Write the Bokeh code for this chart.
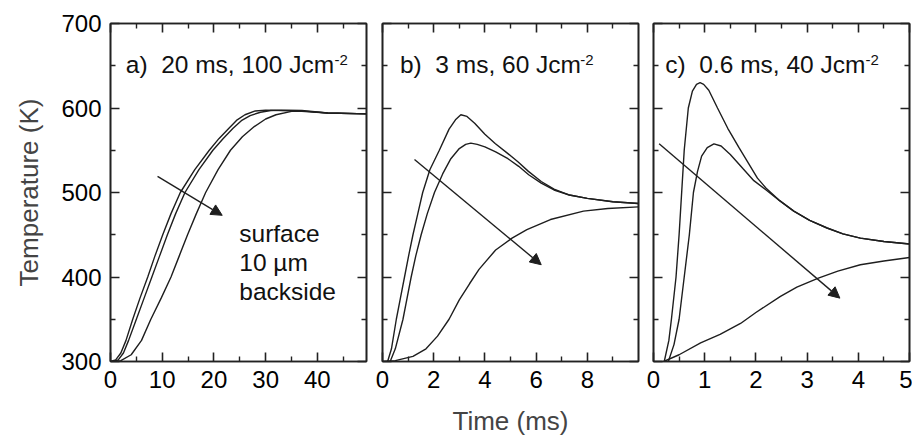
from bokeh.plotting import figure
from bokeh.layouts import row
from bokeh.models import Range1d, FixedTicker, LinearAxis, Label, Arrow, NormalHead
from bokeh.embed import file_html
from bokeh.resources import INLINE

# ---------------- data ----------------
# panel a) 20 ms, 100 Jcm-2
a_surface_t = [0, 1, 2, 3, 4.3, 5.7, 7.2, 8.6, 10.1, 11.7, 13.5, 16.3, 19.1, 21, 22.9, 24.5, 26, 28, 30, 33, 37, 42, 49.6]
a_surface_T = [300, 302, 310, 325, 350, 375, 400, 425, 450, 475, 500, 527, 550, 564, 576, 586, 592, 596.5, 597.5, 597, 596, 594, 593]
a_10um_t = [0.5, 1.5, 2.5, 3.5, 5.0, 6.5, 8.0, 9.5, 11.0, 12.6, 14.4, 17.1, 19.8, 21.8, 23.7, 25.3, 27, 29, 31, 34, 37, 42, 49.6]
a_10um_T = [300, 302, 310, 325, 350, 375, 400, 425, 450, 475, 500, 527, 550, 564, 576, 585, 591, 595, 597, 597.5, 597, 594, 593]
a_back_t = [0, 2, 4, 6, 7.8, 9.8, 11.7, 13.3, 14.9, 16.6, 18.4, 20.8, 23.2, 25.5, 27.8, 30, 32, 35, 38, 42, 49.6]
a_back_T = [300, 301, 308, 325, 350, 375, 400, 425, 450, 475, 500, 527, 550, 566, 578, 587, 592, 596, 596, 594, 593]

# panel b) 3 ms, 60 Jcm-2
b_surface_t = [0.2, 0.35, 0.54, 0.7, 0.86, 1.02, 1.19, 1.38, 1.57, 1.85, 2.22, 2.6, 2.85, 3.06, 3.3, 3.6, 4.0, 4.4, 4.9, 5.3, 5.7, 6.2, 6.7, 7.3, 8.0, 9.0, 10.0]
b_surface_T = [300, 315, 350, 375, 400, 425, 450, 475, 500, 527, 550, 575, 586, 592, 590, 582, 569, 558, 546, 536, 525, 513, 504, 497, 493, 489, 487]
b_10um_t = [0.3, 0.5, 0.8, 0.96, 1.12, 1.3, 1.51, 1.75, 2.03, 2.35, 2.67, 3.0, 3.25, 3.45, 3.7, 4.0, 4.42, 4.9, 5.32, 5.71, 6.2, 6.7, 7.3, 8.0, 9.0, 10.0]
b_10um_T = [300, 315, 350, 375, 400, 425, 450, 475, 500, 522, 540, 552, 557, 558.5, 557, 554, 548, 540, 531, 521, 511, 503, 497, 493, 489, 487]
b_back_t = [0, 0.5, 1.19, 1.7, 2.15, 2.6, 3.0, 3.4, 3.77, 4.42, 5.06, 5.64, 6.56, 7.85, 8.8, 10]
b_back_T = [300, 301, 306, 315, 330, 350, 373, 392, 409, 432, 446, 456, 468, 478, 481, 483]

# panel c) 0.6 ms, 40 Jcm-2
c_surface_t = [0.21, 0.3, 0.35, 0.44, 0.50, 0.55, 0.60, 0.68, 0.76, 0.84, 0.91, 0.98, 1.08, 1.25, 1.45, 1.67, 1.85, 2.03, 2.2, 2.45, 2.74, 3.05, 3.39, 3.7, 4.04, 4.5, 5.0]
c_surface_T = [300, 325, 350, 400, 450, 500, 550, 600, 620, 628, 630, 628, 621, 600, 576, 553, 535, 517, 505, 491, 478, 467, 458, 451, 446, 442, 439]
c_10um_t = [0.29, 0.4, 0.5, 0.6, 0.7, 0.78, 0.86, 0.94, 1.05, 1.18, 1.32, 1.5, 1.75, 1.96, 2.2, 2.45, 2.74, 3.05, 3.39, 3.7, 4.04, 4.5, 5.0]
c_10um_T = [300, 320, 350, 400, 450, 500, 525, 543, 553, 557.5, 555, 545, 528, 514, 503, 491, 478, 467, 458, 451, 446, 442, 439]
c_back_t = [0.2, 0.5, 0.92, 1.3, 1.7, 2.0, 2.48, 2.8, 3.22, 3.6, 4.04, 4.5, 5.0]
c_back_T = [300, 308, 322, 332, 345, 358, 377, 388, 398.7, 407, 414.5, 419, 423]

y_ticks = [300, 400, 500, 600, 700]
y_minor = [350, 450, 550, 650]
a_xticks = [0, 10, 20, 30, 40]
a_xminor = [5, 15, 25, 35, 45]
b_xticks = [0, 2, 4, 6, 8]
b_xminor = [1, 3, 5, 7, 9]
c_xticks = [0, 1, 2, 3, 4, 5]
c_xminor = [0.5, 1.5, 2.5, 3.5, 4.5]

panel_titles = ["a)\u00a0 20 ms, 100 Jcm", "b)\u00a0 3 ms, 60 Jcm", "c)\u00a0 0.6 ms, 40 Jcm"]
depth_labels = ["surface", "10 \u00b5m", "backside"]

FONT = "Liberation Sans"
LINE = "#1e1e1e"


def style_axis(ax, ticks, minor, labels=True):
    ax.ticker = FixedTicker(ticks=ticks, minor_ticks=minor)
    ax.major_tick_in = 9
    ax.major_tick_out = 0
    ax.minor_tick_in = 5
    ax.minor_tick_out = 0
    ax.axis_line_width = 1.6
    ax.axis_line_color = "#222222"
    ax.major_tick_line_width = 1.6
    ax.minor_tick_line_width = 1.4
    ax.major_tick_line_color = "#222222"
    ax.minor_tick_line_color = "#222222"
    ax.major_label_text_font = FONT
    ax.major_label_text_color = "black"
    if labels:
        ax.major_label_text_font_size = "24px"
        ax.major_label_standoff = 9
    else:
        ax.major_label_overrides = {t: "" for t in ticks}
        ax.major_label_text_font_size = "10px"
        ax.major_label_standoff = 0


def make_panel(xr, xticks, xminor, left, right, ylabels):
    p = figure(frame_width=256, frame_height=338,
               x_range=Range1d(*xr), y_range=Range1d(300, 700),
               output_backend="svg", toolbar_location=None,
               min_border_left=left, min_border_right=right,
               min_border_top=23, min_border_bottom=81)
    p.grid.visible = False
    p.outline_line_color = "#222222"
    p.outline_line_width = 1.6
    p.background_fill_color = "white"
    p.border_fill_color = "white"
    bottom = p.below[0]
    leftax = p.left[0]
    style_axis(bottom, xticks, xminor, True)
    style_axis(leftax, y_ticks, y_minor, ylabels)
    top = LinearAxis()
    style_axis(top, xticks, xminor, False)
    p.add_layout(top, "above")
    rt = LinearAxis()
    style_axis(rt, y_ticks, y_minor, False)
    p.add_layout(rt, "right")
    return p, bottom, leftax


def add_title(p, x, xsup, text):
    p.add_layout(Label(x=x, y=651, text=text, text_font=FONT, text_font_size="24.5px",
                       text_color="#111111", text_baseline="alphabetic"))
    p.add_layout(Label(x=xsup, y=657, text="-2", text_font=FONT, text_font_size="15px",
                       text_color="#111111", text_baseline="alphabetic"))


def add_arrow(p, x0, y0, x1, y1):
    p.add_layout(Arrow(end=NormalHead(size=11, fill_color=LINE, line_color=LINE, line_width=1),
                       x_start=x0, y_start=y0, x_end=x1, y_end=y1,
                       line_color=LINE, line_width=1.4))


# panel a
pa, pa_b, pa_l = make_panel((0, 49.5), a_xticks, a_xminor, 110, 8, True)
pa_l.axis_label = "Temperature (K)"
pa_l.axis_label_text_font = FONT
pa_l.axis_label_text_font_size = "26px"
pa_l.axis_label_text_font_style = "normal"
pa_l.axis_label_standoff = 14
for t, T in [(a_surface_t, a_surface_T), (a_10um_t, a_10um_T), (a_back_t, a_back_T)]:
    pa.line(t, T, line_color=LINE, line_width=1.4)
add_title(pa, 2.95, 43.3, panel_titles[0])
add_arrow(pa, 9.1, 519, 21.6, 473)
for lab, yy in zip(depth_labels, [452, 417, 382.5]):
    pa.add_layout(Label(x=24.9, y=yy, text=lab, text_font=FONT, text_font_size="24.5px",
                        text_color="#111111", text_baseline="middle"))

# panel b
pb, pb_b, pb_l = make_panel((0, 10), b_xticks, b_xminor, 8, 7, False)
pb_b.axis_label = "Time (ms)"
pb_b.axis_label_text_font = FONT
pb_b.axis_label_text_font_size = "26px"
pb_b.axis_label_text_font_style = "normal"
pb_b.axis_label_standoff = 15
for t, T in [(b_surface_t, b_surface_T), (b_10um_t, b_10um_T), (b_back_t, b_back_T)]:
    pb.line(t, T, line_color=LINE, line_width=1.4)
add_title(pb, 0.68, 7.72, panel_titles[1])
add_arrow(pb, 1.25, 539, 6.2, 414.5)

# panel c
pc, pc_b, pc_l = make_panel((0, 5), c_xticks, c_xminor, 8, 3, False)
for t, T in [(c_surface_t, c_surface_T), (c_10um_t, c_10um_T), (c_back_t, c_back_T)]:
    pc.line(t, T, line_color=LINE, line_width=1.4)
add_title(pc, 0.23, 4.14, panel_titles[2])
add_arrow(pc, 0.11, 557.7, 3.64, 375)

layout = row(pa, pb, pc)
open("out.html", "w").write(file_html(layout, INLINE))
